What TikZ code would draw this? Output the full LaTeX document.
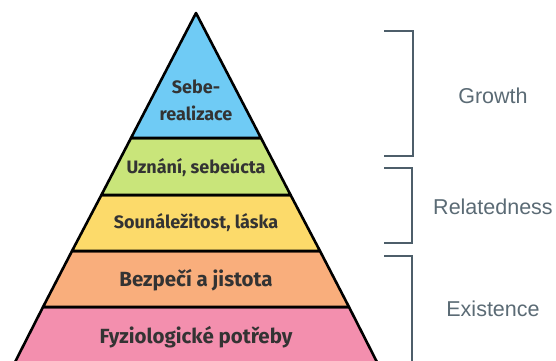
\documentclass[tikz,border=0pt]{standalone}
\usepackage{fontspec}
\setmainfont{Fira Sans}
\newfontfamily\labfont{Liberation Sans}
\definecolor{cblue}{HTML}{6FCBF5}
\definecolor{cgreen}{HTML}{C9E57A}
\definecolor{cyellow}{HTML}{FCDA6A}
\definecolor{corange}{HTML}{F9AE7C}
\definecolor{cpink}{HTML}{F38FAE}
\definecolor{ctext}{HTML}{333333}
\definecolor{cbrack}{HTML}{4D5E6A}
\definecolor{clab}{HTML}{5B6B75}
\begin{document}
\begin{tikzpicture}[x=1pt,y=-1pt,
  band/.style={draw=black,line width=2.6pt,line join=round},
  lvl/.style={font=\fontsize{18}{21}\selectfont\bfseries,text=ctext,align=center,inner sep=0pt},
  big/.style={font=\fontsize{20.5}{24}\selectfont\bfseries},
  brack/.style={draw=cbrack,line width=1.8pt},
  lab/.style={font=\labfont\fontsize{21.5}{25}\selectfont,text=clab,inner sep=0pt}]
\clip (0,0) rectangle (556,360);
\fill[white] (0,0) rectangle (556,360);
% bands: half width = 0.52*(y-13), centre x=196
\draw[band,fill=cpink]   (43,307) -- (349,307) -- (381,370) -- (11,370) -- cycle;
\draw[band,fill=corange] (72,251) -- (320,251) -- (349,307) -- (43,307) -- cycle;
\draw[band,fill=cyellow] (101.4,195) -- (290.6,195) -- (320,251) -- (72,251) -- cycle;
\draw[band,fill=cgreen]  (131,138) -- (261,138) -- (290.6,195) -- (101.4,195) -- cycle;
\draw[band,fill=cblue]   (196,13) -- (261,138) -- (131,138) -- cycle;
% labels
\node[lvl] (l5a) at (196,87) {Sebe-};
\node[lvl] (l5b) at (196,113) {realizace};
\node[lvl] (l4) at (196,168) {Uznání, sebeúcta};
\node[lvl] (l3) at (196,223) {Sounáležitost, láska};
\node[lvl,big] (l2) at (196,280) {Bezpečí a jistota};
\node[lvl,big] (l1) at (196,337) {Fyziologické potřeby};
% brackets
\coordinate (g1) at (384,31); \coordinate (g2) at (413,31);
\coordinate (g3) at (413,156); \coordinate (g4) at (384,156);
\draw[brack] (g1) -- (g2) -- (g3) -- (g4);
\coordinate (r1) at (384,168); \coordinate (r2) at (412,168);
\coordinate (r3) at (412,243); \coordinate (r4) at (384,243);
\draw[brack] (r1) -- (r2) -- (r3) -- (r4);
\coordinate (e1) at (384,256); \coordinate (e2) at (412,256);
\coordinate (e3) at (412,365);
\draw[brack] (e1) -- (e2) -- (e3);
\node[lab] (gr) at (493,96) {Growth};
\node[lab] (re) at (493,207) {Relatedness};
\node[lab] (ex) at (493,309) {Existence};
\end{tikzpicture}
\end{document}
